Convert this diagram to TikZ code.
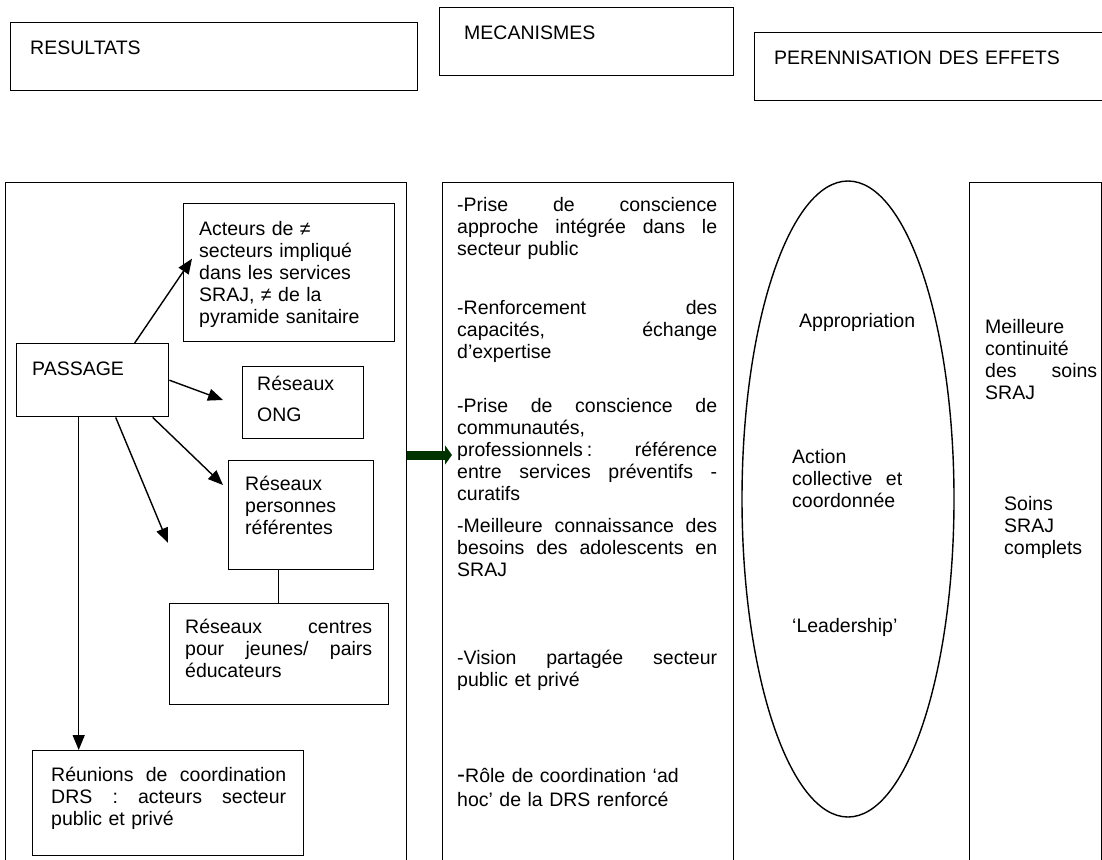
\documentclass[tikz,border=0pt]{standalone}
\usepackage{fontspec}
\setmainfont{Liberation Sans}
\usetikzlibrary{arrows.meta,shapes.geometric}
\definecolor{arrowgreen}{RGB}{0,51,0}
% body font: 19.5pt on a 22pt baseline
\newcommand\fs{\fontsize{19.5}{22}\selectfont}
% strut fixing the height of a first line, so text nodes sit on their baselines
\newcommand\tst{\rule{0pt}{18pt}}
% one justified line of a given width; \g is a word space that stretches
\newcommand\jl[2]{\leavevmode\hbox to #1{#2}}
\newcommand\g{\hskip 0.278em plus 1fil\relax}

\begin{document}
\begin{tikzpicture}[x=1pt,y=-1pt,
  boxframe/.style={draw, line width=1.4pt, inner sep=0, anchor=north west},
  txt/.style={inner sep=0, anchor=north west, font=\fs, align=left, text width=#1},
  txt/.default=300pt,
  arr/.style={line width=1.4pt, -{Triangle[length=15pt,width=12pt]}},
  link/.style={line width=1.4pt},
  fat/.style={line width=9pt, draw=arrowgreen, -{Triangle[length=7pt,width=19pt]}}
]
\useasboundingbox (0,0) rectangle (1102,859);
\fill[white] (0,0) rectangle (1102,859);

% column headings
\node[boxframe, minimum width=407pt, minimum height=68pt] (res) at (10,22) {};
\node[boxframe, minimum width=294pt, minimum height=68pt] (mec) at (439,7) {};
\node[boxframe, minimum width=400pt, minimum height=68pt] (per) at (754,32) {};
\node[txt] (tres) at (30,36) {\tst RESULTATS};
\node[txt] (tmec) at (464,21) {\tst MECANISMES};
\node[txt] (tper) at (774,46) {\tst PERENNISATION DES EFFETS};

% the three columns
\node[boxframe, minimum width=401pt, minimum height=720pt] (left) at (5,182) {};
\node[boxframe, minimum width=291pt, minimum height=720pt] (mid) at (442,182) {};
\node[boxframe, minimum width=132pt, minimum height=720pt] (right) at (969,182) {};

% results column
\node[boxframe, minimum width=211pt, minimum height=138pt] (act) at (183,203) {};
\node[boxframe, minimum width=152pt, minimum height=73pt] (pass) at (16,343) {};
\node[boxframe, minimum width=121pt, minimum height=72pt] (ong) at (242,366) {};
\node[boxframe, minimum width=145pt, minimum height=109pt] (pers) at (228,460) {};
\node[boxframe, minimum width=219pt, minimum height=101pt] (cen) at (169,603) {};
\node[boxframe, minimum width=271pt, minimum height=105pt] (reu) at (32,750) {};

\node[txt] (tact) at (199,217) {\tst Acteurs de ≠\\ secteurs impliqué\\ dans les services\\ SRAJ, ≠ de la\\ pyramide sanitaire};
\node[txt] (tpass) at (32,357) {\tst PASSAGE};
\node[txt] (tong) at (257,372) {\tst Réseaux\\[9pt] ONG};
\node[txt] (tpers) at (245,472) {\tst Réseaux\\ personnes\\ référentes};
\node[txt] (tcen) at (185,615) {\tst\jl{187pt}{Réseaux\g centres}\\ \jl{187pt}{pour\g jeunes/\g pairs}\\ éducateurs};
\node[txt] (treu) at (51,763) {\tst\jl{235pt}{Réunions\g de\g coordination}\\ \jl{235pt}{DRS\g :\g acteurs\g secteur}\\ public et privé};

\coordinate (e2) at (223,400);
\coordinate (e3) at (223,485);
\coordinate (e4) at (168,543);
\path ([xshift=-14pt]pass.south) coordinate (s5);
\path ([xshift=-22.5pt]pers.south) coordinate (s6);

\draw[arr] ([xshift=42pt]pass.north) -- ([xshift=9pt,yshift=14pt]act.west);
\draw[arr] (pass.east) -- (e2);
\draw[arr] ([xshift=60pt]pass.south) -- (e3);
\draw[arr] ([xshift=23pt]pass.south) -- (e4);
\draw[arr] (s5) -- (s5 |- reu.north);
\draw[link] (s6) -- (s6 |- cen.north);

% mechanisms column
\node[txt] (m1) at (457,193) {\tst\jl{260pt}{-Prise\g de\g conscience}\\ \jl{260pt}{approche\g intégrée\g dans\g le}\\ secteur public};
\node[txt] (m2) at (457,296) {\tst\jl{260pt}{-Renforcement\g des}\\ \jl{260pt}{capacités,\g échange}\\ d’expertise};
\node[txt] (m3) at (457,394) {\tst\jl{260pt}{-Prise\g de\g conscience\g de}\\ communautés,\\ \jl{260pt}{professionnels\kern0.2em:\g référence}\\ \jl{260pt}{entre\g services\g préventifs\g -}\\ curatifs};
\node[txt] (m4) at (457,514) {\tst\jl{260pt}{-Meilleure\g connaissance\g des}\\ \jl{260pt}{besoins\g des\g adolescents\g en}\\ SRAJ};
\node[txt] (m5) at (457,646) {\tst\jl{260pt}{-Vision\g partagée\g secteur}\\ public et privé};
\node[txt] (m6) at (457,764) {\tst{\fontsize{24}{22}\selectfont -}Rôle de coordination ‘ad\\[2pt] hoc’ de la DRS renforcé};

% link from results to mechanisms
\coordinate (gt) at (452,455);
\draw[fat] (gt -| left.east) -- (gt);

% levers
\node[draw, ellipse, line width=1.4pt, inner sep=0, minimum width=212pt, minimum height=636pt] (ell) at (848,499) {};
\node[txt] (l1) at (799,309) {\tst Appropriation};
\node[txt] (l2) at (792,445) {\tst Action\\ \jl{110pt}{collective\g et}\\ coordonnée};
\node[txt] (l3) at (792,614) {\tst ‘Leadership’};

% lasting effects
\node[txt] (p1) at (985,315) {\tst Meilleure\\ continuité\\ \jl{112pt}{des\g soins}\\ SRAJ};
\node[txt] (p2) at (1004,492) {\tst Soins\\ SRAJ\\ complets};
\end{tikzpicture}
\end{document}
